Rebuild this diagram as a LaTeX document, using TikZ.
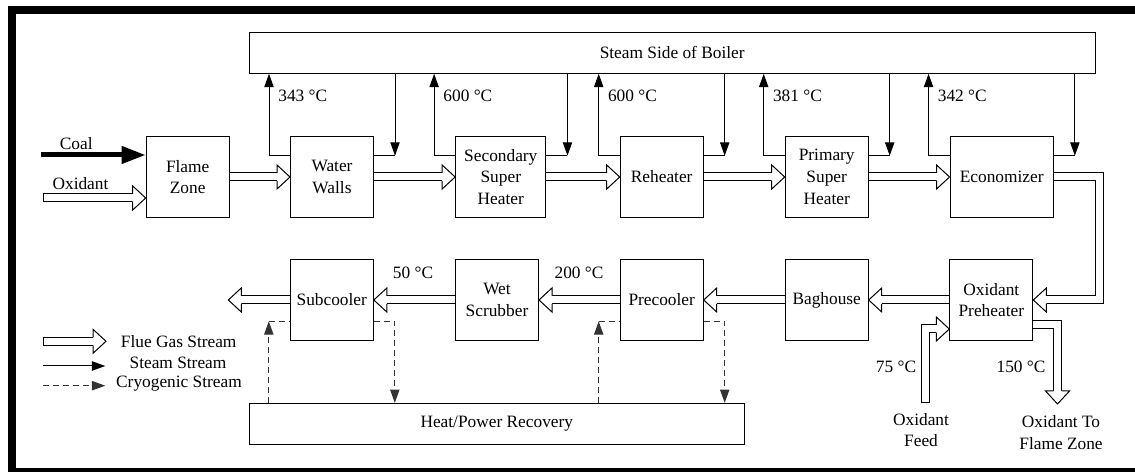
\documentclass[tikz,border=0pt]{standalone}
\usepackage{fontspec}
\setmainfont{Liberation Serif}
\usetikzlibrary{arrows.meta,calc}
\tikzset{
  unit/.style={draw, line width=0.6pt, minimum width=49.8pt, minimum height=49pt, align=center, inner sep=1pt},
  flue/.style={double, double distance=4.2pt, line width=0.6pt, line join=miter},
  closed/.style={line cap=rect},
  fluetip/.style={draw, fill=white, line width=0.6pt, line join=miter},
  steamline/.style={line width=0.6pt, -{Triangle[length=8pt,width=5.6pt]}},
  cryoline/.style={steamline, black!80, dash pattern=on 3.6pt off 2.4pt},
  coalline/.style={line width=3pt, -{Triangle[length=14.4pt,width=10pt]}},
  label/.style={inner sep=0pt}
}
\newcommand{\fluehead}[2]{\draw[fluetip, shift={#1}, rotate=#2] (-13,-4) -- (-13,-12) -- (0,0) -- (-13,12) -- (-13,4);}
\begin{document}
\begin{tikzpicture}[x=0.6pt, y=-0.6pt, font=\fontsize{10.4}{13}\selectfont]
  \useasboundingbox (0,0) rectangle (1135,472);
  \fill (8,6) rectangle (1135,14);
  \fill (8,6) rectangle (15.7,472);
  \fill (8,467.7) rectangle (1135,472);

  \node[unit] (flame) at (187.7,177) {Flame\\Zone};
  \node[unit] (walls) at (332,177) {Water\\Walls};
  \node[unit, minimum width=54.2pt] (second) at (500.8,177) {Secondary\\Super\\Heater};
  \node[unit] (reheat) at (661.7,177) {Reheater};
  \node[unit] (primary) at (826.7,177) {Primary\\Super\\Heater};
  \node[unit, minimum width=62pt] (econ) at (1001.7,177) {Economizer};
  \node[unit] (preheat) at (991.3,300) {Oxidant\\Preheater};
  \node[unit] (baghouse) at (826.7,300) {Baghouse};
  \node[unit] (precool) at (661.7,300) {Precooler};
  \node[unit] (scrubber) at (497,300) {Wet\\Scrubber};
  \node[unit] (subcool) at (331.8,300) {Subcooler};
  \node[unit, minimum width=507.4pt, minimum height=24.6pt] (steam) at (672.2,52.8) {Steam Side of Boiler};
  \node[unit, minimum width=297pt, minimum height=24.4pt] (heat) at (496.8,423.7) {Heat/Power Recovery};

  \foreach \b/\tc in {walls/343, second/600, reheat/600, primary/381, econ/342} {
    \draw[steamline] ($(\b.north west)+(0,20)$) -- ++(-21,0) coordinate (u) -- (u |- steam.south);
    \node[label, anchor=west] at ($(u |- steam.south)+(9,22)$) {\tc\ °C};
    \draw[line width=0.6pt] ($(\b.north east)+(0,20)$) -- ++(21,0) coordinate (d);
    \draw[steamline] (d |- steam.south) -- (d);
  }
  \foreach \b in {subcool, precool} {
    \coordinate (l) at ($(\b.south west)+(-21,-20)$);
    \draw[cryoline] (l |- heat.north) -- (l);
    \draw[cryoline, -] (l) -- ($(\b.south west)+(0,-20)$);
    \draw[cryoline] ($(\b.south east)+(0,-20)$) -- ++(21,0) coordinate (r) -- (r |- heat.north);
  }

  \foreach \a/\b in {flame/walls, walls/second, second/reheat, reheat/primary, primary/econ} {
    \draw[flue] (\a.east) -- ($(\b.west)+(-13,0)$);
    \fluehead{(\b.west)}{0}
  }
  \foreach \a/\b in {preheat/baghouse, baghouse/precool, precool/scrubber, scrubber/subcool} {
    \draw[flue] (\a.west) -- ($(\b.east)+(13,0)$);
    \fluehead{(\b.east)}{180}
  }
  \coordinate (gasout) at (228.3,300);
  \draw[flue] (subcool.west) -- ($(gasout)+(13,0)$);
  \fluehead{(gasout)}{180}
  \draw[flue] (econ.east) -- ++(46,0) |- ($(preheat.east)+(13,0)$);
  \fluehead{(preheat.east)}{180}

  \coordinate (oxfeed) at (925.5,399);
  \draw[flue, closed] (oxfeed) |- ($(preheat.west)+(-13,29)$);
  \fluehead{($(preheat.west)+(0,29)$)}{0}
  \coordinate (oxout) at (1057.5,404);
  \draw[flue] ($(preheat.east)+(0,25)$) -| ($(oxout)+(0,-13)$);
  \fluehead{(oxout)}{-90}

  \coordinate (coalin) at (41,155);
  \draw[coalline] (coalin) -- (coalin -| flame.west);
  \coordinate (oxin) at (47.5,198);
  \draw[flue, closed] (oxin) -- ($(oxin -| flame.west)+(-13,0)$);
  \fluehead{(oxin -| flame.west)}{0}

  \node[label] (tcoal) at (76.3,144) {Coal};
  \node[label] (toxin) at (80.5,183.3) {Oxidant};
  \node[label] (t50) at (413,273) {50 °C};
  \node[label] (t200) at (579,273) {200 °C};
  \node[label] (t75) at (896,366.7) {75 °C};
  \node[label] (t150) at (1021,366.7) {150 °C};
  \node[label, align=center] (tfeed) at (921,430) {Oxidant\\Feed};
  \node[label, align=center] (tout) at (1061,432.7) {Oxidant To\\Flame Zone};

  \coordinate (legflue) at (47.5,341.3);
  \coordinate (legfluetip) at (106,341.3);
  \draw[flue, closed] (legflue) -- ($(legfluetip)+(-13,0)$);
  \fluehead{(legfluetip)}{0}
  \coordinate (legsteam) at (43.3,366);
  \draw[steamline] (legsteam) -- ++(62,0);
  \coordinate (legcryo) at (43.3,385.7);
  \draw[cryoline] (legcryo) -- ++(62,0);
  \node[label] (lflue) at (178.7,341.7) {Flue Gas Stream};
  \node[label] (lsteam) at (178,363.3) {Steam Stream};
  \node[label] (lcryo) at (179,384) {Cryogenic Stream};
\end{tikzpicture}
\end{document}
